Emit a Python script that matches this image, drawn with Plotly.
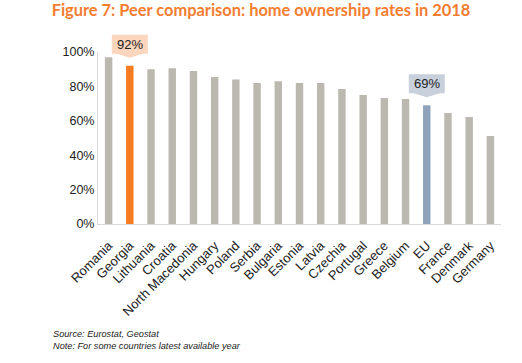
import plotly.graph_objects as go

countries = ["Romania", "Georgia", "Lithuania", "Croatia", "North Macedonia", "Hungary",
             "Poland", "Serbia", "Bulgaria", "Estonia", "Latvia", "Czechia", "Portugal",
             "Greece", "Belgium", "EU", "France", "Denmark", "Germany"]
rates = [0.97, 0.92, 0.90, 0.905, 0.89, 0.855, 0.84, 0.82, 0.83, 0.82, 0.82, 0.785,
         0.75, 0.733, 0.727, 0.69, 0.645, 0.622, 0.512]
y_ticks = [0, 0.2, 0.4, 0.6, 0.8, 1.0]
y_labels = ["0%", "20%", "40%", "60%", "80%", "100%"]
highlights = {"Georgia": ("#F47B20", "#FBD5BC"), "EU": ("#8FA2BB", "#C8D0DC")}

GREY = "#BBB8AF"
colors = [highlights[c][0] if c in highlights else GREY for c in countries]
Y_MAX = 1.0
n = len(countries)

fig = go.Figure()
fig.add_trace(go.Bar(x=countries, y=rates, marker=dict(color=colors, line=dict(width=0)),
                     hoverinfo="x+y"))

font = "Liberation Sans, Arial, Helvetica, sans-serif"
shapes = []
annotations = []
for c, (bar_col, box_col) in highlights.items():
    i = countries.index(c)
    v = rates[i]
    px = (i + 0.5) / n          # paper position of bar centre
    py = v / Y_MAX              # paper position of bar top
    path = "M 0 8 L 13 12 L 18 12 L 18 31 L -18 31 L -18 12 L -13 12 Z"
    shapes.append(dict(type="path", xref="paper", yref="paper", xsizemode="pixel", ysizemode="pixel",
                       xanchor=px, yanchor=py, path=path, fillcolor=box_col, line=dict(width=0),
                       layer="above"))
    annotations.append(dict(x=px, y=py, xref="paper", yref="paper", text=f"{round(v*100)}%",
                            showarrow=False, yshift=21.5, xanchor="center", yanchor="middle",
                            font=dict(size=13, color="#222222", family=font)))

annotations.append(dict(xref="paper", yref="paper", x=-0.117, y=-0.600, xanchor="left", yanchor="top",
                        align="left", showarrow=False,
                        text="<i>Source: Eurostat, Geostat<br>Note: For some countries latest available year</i>",
                        font=dict(size=9.2, color="#222222", family=font)))

fig.update_layout(
    width=522, height=363,
    margin=dict(l=98, r=21, t=52, b=139),
    paper_bgcolor="white", plot_bgcolor="white",
    bargap=0.65,
    showlegend=False,
    title=dict(text="<b>Figure 7: Peer comparison: home ownership rates in 2018</b>",
               x=0.5, xanchor="center", y=0.972, yanchor="middle",
               font=dict(size=16.4, color="#F47D30",
                         family="Lato, Liberation Sans, Arial, sans-serif")),
    font=dict(family=font, size=12, color="#222222"),
    xaxis=dict(type="category", tickangle=-45, showline=True, linecolor="#D9D9D9", linewidth=1,
               ticks="", tickfont=dict(size=13), ticklabelstandoff=8, showgrid=False,
               range=[-0.5, n - 0.5]),
    yaxis=dict(range=[0, Y_MAX], tickvals=y_ticks, ticktext=y_labels, showline=True,
               linecolor="#D9D9D9", linewidth=1, showgrid=False, zeroline=False, ticks="",
               tickfont=dict(size=12.5)),
    shapes=shapes,
    annotations=annotations,
)

fig.write_html("out.html", config={"displayModeBar": False},
               post_script="document.body.style.margin='0';")
